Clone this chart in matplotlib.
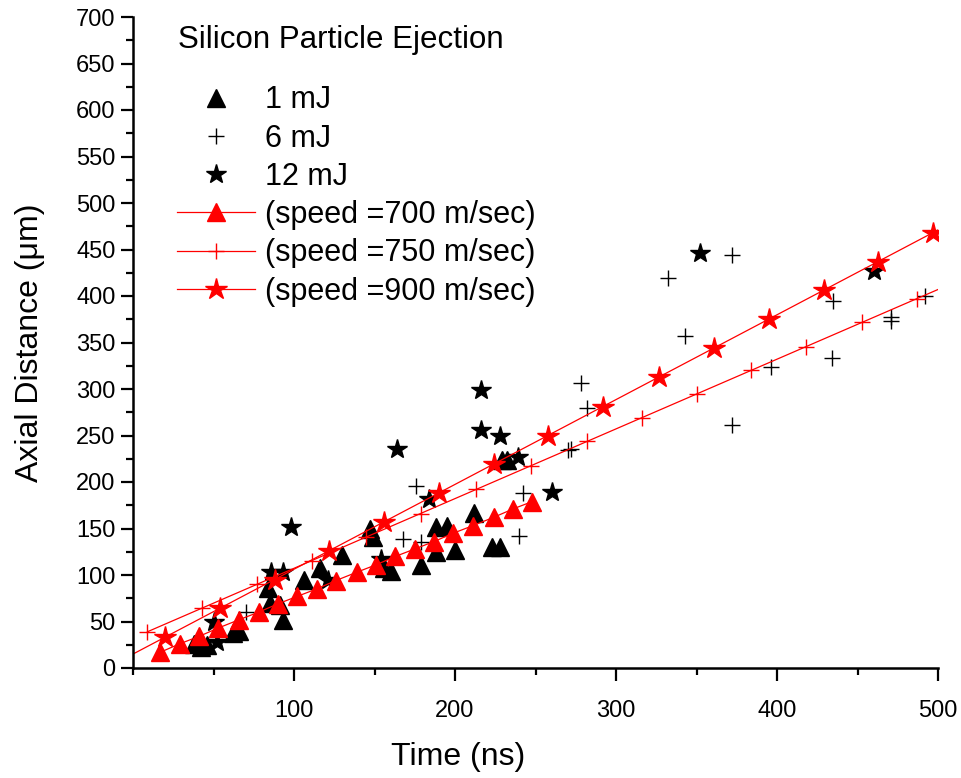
import matplotlib
matplotlib.use("Agg")
import matplotlib.pyplot as plt
from matplotlib.ticker import MultipleLocator

plt.rcParams['font.family'] = ['Liberation Sans', 'DejaVu Sans']

# measured points (time in ns, axial distance in um)
t_1mj = [38, 42, 46, 62, 66, 84, 85, 91, 93, 106, 116, 130, 147, 149, 156, 160,
         179, 188, 188, 195, 200, 212, 223, 228, 229, 232]
d_1mj = [26, 23, 25, 38, 40, 86, 70, 68, 52, 95, 108, 122, 149, 141, 107, 104,
         111, 125, 152, 153, 127, 167, 130, 130, 224, 224]

t_6mj = [70, 168, 176, 179, 240, 242, 270, 272, 278, 282, 332, 343, 372, 372,
         396, 434, 435, 471, 471, 492]
d_6mj = [60, 139, 196, 135, 142, 188, 234, 235, 306, 280, 419, 357, 444, 261,
         324, 333, 395, 377, 373, 400]

t_12mj = [50, 52, 86, 93, 98, 121, 154, 164, 184, 216, 216, 228, 239, 260, 352, 460]
d_12mj = [49, 28, 103, 103, 152, 95, 117, 235, 182, 299, 256, 249, 227, 189, 446, 427]

# speed fits
t_700 = [17, 29, 41, 53, 66, 78, 90, 102, 114, 126, 139, 151, 163, 175, 187,
         199, 211, 224, 236, 248]
d_700 = [17, 26, 34, 43, 52, 60, 69, 77, 85, 94, 103, 111, 120, 128, 136,
         145, 153, 162, 171, 179]

t_750 = [9, 43, 77, 111, 145, 179, 213, 247, 282, 316, 350, 384, 418, 453, 487]
d_750 = [39, 64, 90, 115, 141, 166, 192, 217, 244, 269, 295, 320, 345, 372, 397]
line750_t = [9, 500]
line750_d = [39, 407]

t_900 = [20, 54, 88, 122, 156, 190, 224, 258, 292, 327, 361, 395, 429, 463, 497]
d_900 = [33, 64, 95, 126, 157, 188, 219, 250, 281, 313, 344, 375, 406, 437, 468]
line900_t = [0, 500]
line900_d = [15, 471]

labels = ['1 mJ', '6 mJ', '12 mJ',
          '(speed =700 m/sec)', '(speed =750 m/sec)', '(speed =900 m/sec)']

fig = plt.figure(figsize=(9.62, 7.78), dpi=100)
ax = fig.add_axes([133 / 962, 110 / 778, 805 / 962, 651 / 778])

h1, = ax.plot(t_1mj, d_1mj, linestyle='none', marker='^', ms=13, color='black')
h2, = ax.plot(t_6mj, d_6mj, linestyle='none', marker='+', ms=12, mew=1, color='black')
h3, = ax.plot(t_12mj, d_12mj, linestyle='none', marker='*', ms=15, color='black')

ax.plot(t_700, d_700, color='red', lw=0.9)
ax.plot(line750_t, line750_d, color='red', lw=0.9)
ax.plot(line900_t, line900_d, color='red', lw=0.9)
ax.plot(t_700, d_700, linestyle='none', marker='^', ms=13, color='red')
ax.plot(t_750, d_750, linestyle='none', marker='+', ms=12, mew=1, color='red')
ax.plot(t_900, d_900, linestyle='none', marker='*', ms=16, color='red')

# legend handles: line + marker
h4, = ax.plot([], [], color='red', lw=0.9, marker='^', ms=13)
h5, = ax.plot([], [], color='red', lw=0.9, marker='+', ms=12, mew=1)
h6, = ax.plot([], [], color='red', lw=0.9, marker='*', ms=16)

ax.set_xlim(0, 500)
ax.set_ylim(0, 700)
ax.set_xticks([100, 200, 300, 400, 500])
ax.xaxis.set_minor_locator(MultipleLocator(50))
ax.yaxis.set_major_locator(MultipleLocator(50))
ax.yaxis.set_minor_locator(MultipleLocator(25))
ax.tick_params(which='major', direction='out', length=9, width=1.6, labelsize=17)
ax.tick_params(which='minor', direction='out', length=5, width=1.6)
ax.tick_params(axis='x', pad=14)
for side in ['top', 'right']:
    ax.spines[side].set_visible(False)
for side in ['left', 'bottom']:
    ax.spines[side].set_linewidth(1.8)

ax.set_xlabel('Time (ns)', fontsize=23, va='center')
ax.xaxis.set_label_coords(0.404, -0.137)
ax.set_ylabel('Axial Distance (\u03bcm)', fontsize=23, va='center')
ax.yaxis.set_label_coords(-0.128, 0.5)

fig.text(178 / 962, 1 - 40 / 778, 'Silicon Particle Ejection', fontsize=22.5,
         ha='left', va='center')
ax.legend([h1, h2, h3, h4, h5, h6], labels, loc='upper left',
          bbox_to_anchor=(162 / 962, 1 - 70 / 778), bbox_transform=fig.transFigure,
          frameon=False, fontsize=22, handlelength=2.55, handletextpad=0.33,
          labelspacing=0.27, borderpad=0, numpoints=1)

fig.savefig('out.png', dpi=100)
